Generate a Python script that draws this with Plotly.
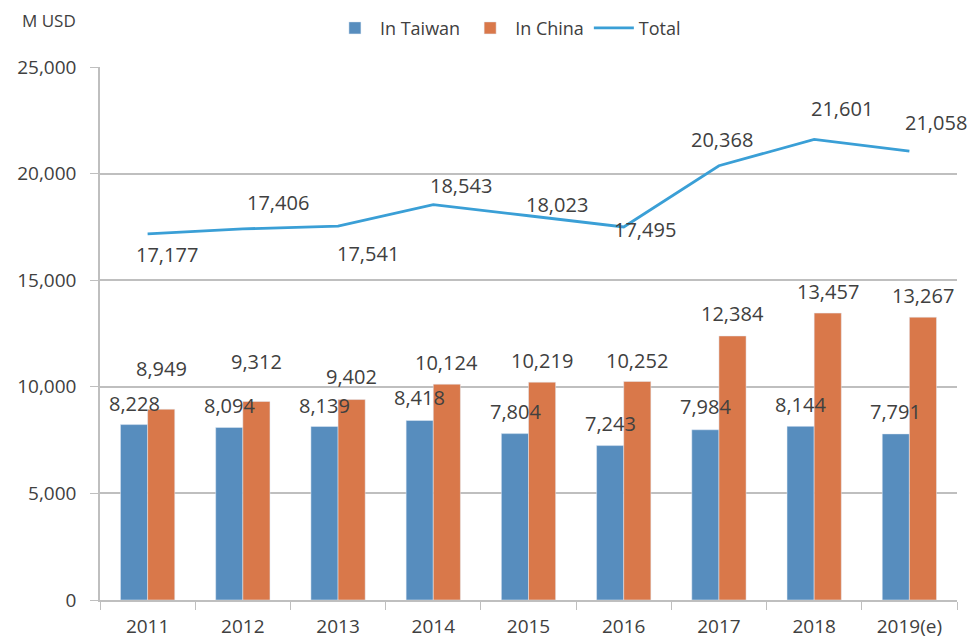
import plotly.graph_objects as go

years = ["2011", "2012", "2013", "2014", "2015", "2016", "2017", "2018", "2019(e)"]
in_taiwan = [8228, 8094, 8139, 8418, 7804, 7243, 7984, 8144, 7791]
in_china = [8949, 9312, 9402, 10124, 10219, 10252, 12384, 13457, 13267]
total = [17177, 17406, 17541, 18543, 18023, 17495, 20368, 21601, 21058]

# label offsets in pixels (style only): (dx, dy) with dy positive = up
total_label_dx = [19, 35, 30, 28, 28, 21, 3, 28, 27]
total_label_dy = [-21, 26, -27, 19, 11, -2, 26, 31, 29]
china_label_dy = [41, 40, 23, 22, 22, 21, 22, 22, 22]
taiwan_label_dy = [21, 22, 21, 23, 22, 22, 23, 22, 22]

FONT = "Open Sans"
TXT = "#404040"
BLUE = "#578DBE"
ORANGE = "#D9784A"
LINE = "#3A9FD6"
GRID = "#BFBFBF"
LBL = 20

fig = go.Figure()
fig.add_trace(go.Bar(x=years, y=in_taiwan, name="In Taiwan", marker_color=BLUE))
fig.add_trace(go.Bar(x=years, y=in_china, name="In China", marker_color=ORANGE))
fig.add_trace(go.Scatter(x=years, y=total, name="Total", mode="lines",
                         line=dict(color=LINE, width=2.8)))

for i, v in enumerate(in_taiwan):
    fig.add_annotation(x=i, y=v, text=f"{v:,}", showarrow=False, xshift=-13.5,
                       yanchor="middle", yshift=taiwan_label_dy[i],
                       font=dict(size=LBL, color=TXT, family=FONT))
for i, v in enumerate(in_china):
    fig.add_annotation(x=i, y=v, text=f"{v:,}", showarrow=False, xshift=13.5,
                       yanchor="middle", yshift=china_label_dy[i],
                       font=dict(size=LBL, color=TXT, family=FONT))
for i, v in enumerate(total):
    fig.add_annotation(x=i, y=v, text=f"{v:,}", showarrow=False,
                       xshift=total_label_dx[i], yshift=total_label_dy[i],
                       xanchor="center", yanchor="middle",
                       font=dict(size=LBL, color=TXT, family=FONT))

fig.add_annotation(text="M USD", xref="paper", yref="paper", x=-0.0595, y=1.088,
                   xanchor="center", yanchor="middle", showarrow=False,
                   font=dict(size=17, color=TXT, family=FONT))

fig.update_layout(
    width=971, height=641,
    margin=dict(l=100, r=14, t=67, b=41, autoexpand=False),
    plot_bgcolor="white", paper_bgcolor="white",
    barmode="group", bargap=0.43, bargroupgap=0,
    font=dict(family=FONT, color=TXT, size=18),
    legend=dict(orientation="h", x=0.476, xanchor="center", xref="paper",
                y=0.956, yanchor="middle", yref="container",
                font=dict(size=18, color=TXT, family=FONT), itemwidth=40,
                traceorder="normal"),
    showlegend=True,
)
fig.update_yaxes(range=[0, 25000], tickvals=[0, 5000, 10000, 15000, 20000, 25000],
                 tickformat=",", showgrid=True, gridcolor=GRID, gridwidth=1.5,
                 showline=True, linecolor=GRID, linewidth=1.5,
                 ticks="outside", ticklen=8, tickcolor=GRID, zeroline=False,
                 ticklabelstandoff=10, automargin=False,
                 tickfont=dict(size=19, color=TXT, family=FONT))
fig.update_xaxes(type="category", range=[-0.5, len(years) - 0.5],
                 showline=True, linecolor=GRID, linewidth=1.5,
                 ticks="outside", tickson="boundaries", ticklen=8, tickcolor=GRID,
                 tickangle=0, ticklabelstandoff=8, automargin=False,
                 tickfont=dict(size=19, color=TXT, family=FONT))

fig.write_html("out.html", config={"displayModeBar": False},
               post_script="document.body.style.margin='0';document.body.style.padding='0';")
